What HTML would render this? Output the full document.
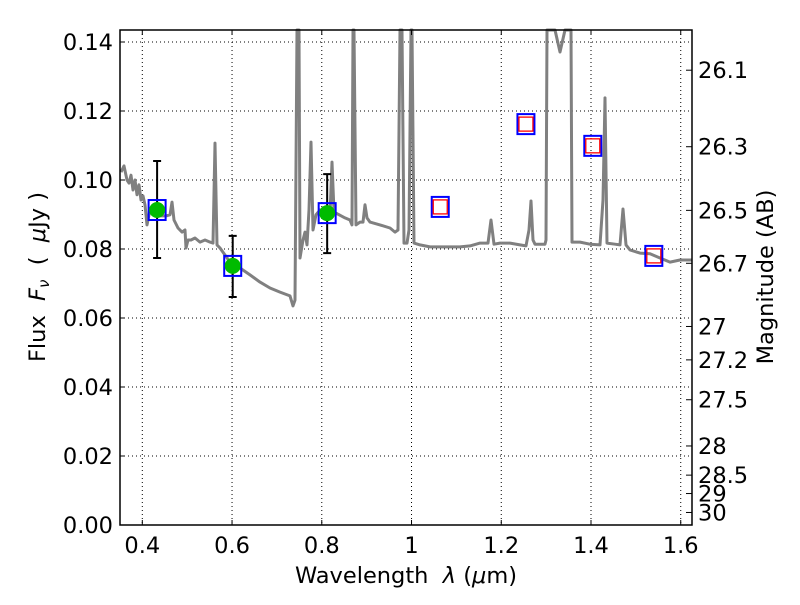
<!DOCTYPE html>
<html><head><meta charset="utf-8"><style>
body{margin:0;background:#fff;}
text{font-family:"DejaVu Sans","Liberation Sans",sans-serif;fill:#000;}
</style></head><body>
<svg id="c" width="800" height="600" xmlns="http://www.w3.org/2000/svg">
<rect width="800" height="600" fill="#fff"/>
<g id="grid"></g><g id="spec"></g><g id="marks"></g><g id="axes"></g>
</svg>
<script>
const specX=[121,124,127,129,131,133,135,137,139,141,143,145,147,150,155,160,166,170,172,174,178,182,185,186,188,191,195,200,205,210,213,215,217,220,230,240,250,260,270,280,290,293,295,297,299,300,303,305,307,309,311,313,316,320,325,330,332,334,338,345,350,352,353,354,356,360,363,365,367,370,380,390,395,398,400,402,404,407,409,411,412,414,420,430,440,450,460,470,480,488,491,494,500,510,520,526,529,531,533,535,545,546,547,555,560,565,571,572,575,580,590,600,603,605,607,615,620,623,626,630,640,650,660,670,680,692];
const specY=[172,166,180,183,175,190,180,195,185,200,196,205,225,210,214,216,216,215,202,220,228,232,230,248,240,240,238,242,240,242,243,143,245,248,262,268,275,282,288,292,296,306,300,30,30,258,240,232,245,210,142,230,215,210,214,215,162,212,214,218,220,225,30,30,225,222,222,205,218,222,225,228,232,230,30,30,243,243,230,30,30,243,245,247,247,247,247,246,243,243,220,244,243,243,245,246,230,201,240,244,244,240,30,30,52,30,30,242,242,242,244,245,200,98,243,244,245,209,245,250,253,254,258,262,260,260];
// convert pixel traces to data values
const specLam=specX.map(p=>+(0.4+(p-142.3)/448.7).toFixed(4));
const specFlux=specY.map(p=>+((525-p)/3450).toFixed(4));
const detLam=[0.433,0.6015,0.812];
const detFlux=[0.0913,0.0751,0.0904];
const detErrHi=[0.1055,0.0838,0.1017];
const detErrLo=[0.0774,0.0661,0.0788];
const ulLam=[1.064,1.255,1.404,1.540];
const ulFlux=[0.0922,0.1162,0.1099,0.078];
const xTicks=[0.4,0.6,0.8,1.0,1.2,1.4,1.6];
const xTickLabels=["0.4","0.6","0.8","1","1.2","1.4","1.6"];
const yTicks=[0,0.02,0.04,0.06,0.08,0.10,0.12,0.14];
const yTickLabels=["0.00","0.02","0.04","0.06","0.08","0.10","0.12","0.14"];
const magTicks=[26.1,26.3,26.5,26.7,27,27.2,27.5,28,28.5,29,30];
const magTickLabels=["26.1","26.3","26.5","26.7","27","27.2","27.5","28","28.5","29","30"];

const L=120,R=692,T=30,B=525;
const X=v=>142.3+(v-0.4)*448.7;
const Y=v=>525-v*3450;
const M=m=>Y(Math.pow(10,(23.9-m)/2.5));
const NS="http://www.w3.org/2000/svg";
function mk(parent,tag,attrs){const e=document.createElementNS(NS,tag);for(const k in attrs)e.setAttribute(k,attrs[k]);document.getElementById(parent).appendChild(e);return e;}
const clampY=y=>Math.max(T,Math.min(B,y));

xTicks.forEach((t,i)=>{const g=mk('grid','line',{x1:X(t),x2:X(t),y1:T,y2:B,stroke:'#000','stroke-width':1,'stroke-dasharray':'1,3'});

});
yTicks.forEach((t,i)=>{const g=mk('grid','line',{x1:L,x2:R,y1:Y(t),y2:Y(t),stroke:'#000','stroke-width':1,'stroke-dasharray':'1,3'});

});

const pts=specLam.map((l,i)=>X(l).toFixed(1)+','+clampY(Y(specFlux[i])).toFixed(1)).join(' ');
const sp=mk('spec','polyline',{points:pts,fill:'none',stroke:'#808080','stroke-width':3,'stroke-linejoin':'round'});



detLam.forEach((l,i)=>{const x=X(l);
const eb=mk('marks','path',{d:`M${x},${Y(detErrHi[i])}V${Y(detErrLo[i])}M${x-4},${Y(detErrHi[i])}h8M${x-4},${Y(detErrLo[i])}h8`,stroke:'#000','stroke-width':2,fill:'none'});


const bs=mk('marks','rect',{x:x-8.5,y:Y(detFlux[i])-10,width:17,height:20,fill:'none',stroke:'#0000ff','stroke-width':2});


const c=mk('marks','circle',{cx:x,cy:Y(detFlux[i]),r:8,fill:'#00bb00'});

});
ulLam.forEach((l,i)=>{const x=X(l),y=Y(ulFlux[i]);
const bs=mk('marks','rect',{x:x-8.5,y:y-10,width:17,height:20,fill:'none',stroke:'#0000ff','stroke-width':2});


const rs=mk('marks','rect',{x:x-7,y:y-7,width:14,height:14,fill:'none',stroke:'#ff0000','stroke-width':1.3});

});

const fr=mk('axes','rect',{x:L,y:T,width:R-L,height:B-T,fill:'none',stroke:'#000','stroke-width':1.5});


xTicks.forEach((t,i)=>{const x=X(t);
mk('axes','path',{d:`M${x},${B}v-5M${x},${T}v5`,stroke:'#000','stroke-width':1});
const tx=mk('axes','text',{x:x,y:B+28,'text-anchor':'middle','font-size':22.5});tx.textContent=xTickLabels[i];

});
yTicks.forEach((t,i)=>{const y=Y(t);
mk('axes','path',{d:`M${L},${y}h5`,stroke:'#000','stroke-width':1});
const tx=mk('axes','text',{x:L-7,y:y+8,'text-anchor':'end','font-size':22.5});tx.textContent=yTickLabels[i];

});
magTicks.forEach((m,i)=>{const y=M(m);
mk('axes','path',{d:`M${R},${y}h-6`,stroke:'#000','stroke-width':1});
const tx=mk('axes','text',{x:R+6,y:y+8,'font-size':22.5});tx.textContent=magTickLabels[i];

});
</script>
<svg width="800" height="600" style="position:absolute;left:0;top:0" xmlns="http://www.w3.org/2000/svg">
<text x="406" y="583" text-anchor="middle" font-size="22.5" xml:space="preserve">Wavelength  <tspan font-style="italic">λ</tspan> (<tspan font-style="italic">μ</tspan>m)</text>
<text transform="translate(45,277) rotate(-90)" text-anchor="middle" font-size="22.5" xml:space="preserve">Flux  <tspan font-style="italic">F<tspan font-size="15" dy="4">ν</tspan></tspan><tspan dy="-4">  (  </tspan><tspan font-style="italic">μ</tspan>Jy )</text>
<text transform="translate(773,277) rotate(-90)" text-anchor="middle" font-size="22.5">Magnitude (AB)</text>
</svg>
</body></html>
